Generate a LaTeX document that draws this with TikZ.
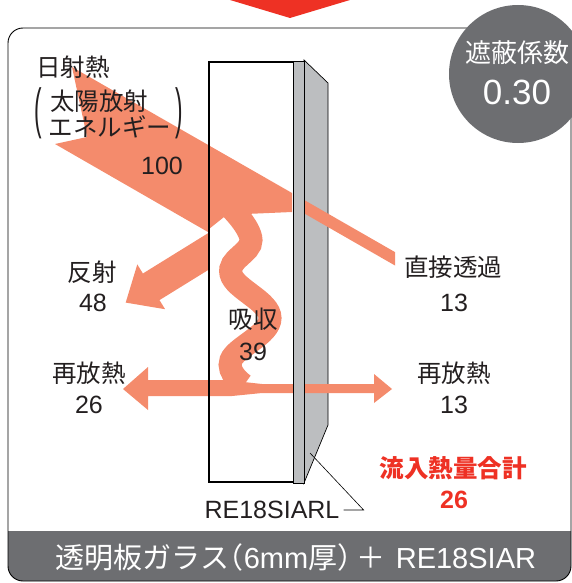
\documentclass[tikz,border=0pt]{standalone}
\usepackage{fontspec}
\usepackage{graphicx}
\setmainfont{Noto Sans CJK JP}
\newfontfamily\jphalt{Noto Sans CJK JP}[RawFeature=+halt]
\newfontfamily\lat{Liberation Sans}
\definecolor{salmon}{HTML}{F48B6C}
\definecolor{band}{HTML}{6D6E71}
\definecolor{filmgray}{HTML}{BCBEC0}
\definecolor{topred}{HTML}{EE3124}
\definecolor{hot}{HTML}{EE3124}
\definecolor{ink}{HTML}{231F20}
\begin{document}
\begin{tikzpicture}
  [x=1pt,y=-1pt,every node/.style={inner sep=0pt,text=ink},
   lbl/.style={font=\fontsize{24.5}{24.5}\selectfont},
   num/.style={font=\lat\fontsize{25}{25}\selectfont},
   beam/.style={fill=salmon},
   film/.style={fill=filmgray,draw=black,line width=0.7pt}]
\useasboundingbox (0,0) rectangle (572,583);

% Marco con banda inferior
\begin{scope}
  \clip[rounded corners=15pt] (8,28) rectangle (571,581);
  \fill[band] (0,531) rectangle (572,583);
\end{scope}
\draw[line width=0.9pt,rounded corners=15pt] (8,28) rectangle (571,581);

% Punta de flecha superior
\fill[topred] (230,0) -- (350,0) -- (290,18) -- cycle;

% Pelicula vista de lado
\draw[film] (304,60) -- (328,83) -- (328,425) -- (304,483) -- cycle;

% Rayos: entrada, reflejo, absorcion, transmision
\fill[beam] (72,67) -- (292,193) -- (292,212) -- (246,214) -- (224,217) -- (209,229)
  -- (209,232.6) -- (55,144) -- (87,137) -- cycle;
\fill[beam] (209,232.6) -- (142.9,273.5) -- (137.3,264.4) -- (125.7,302.6)
  -- (165.1,309.2) -- (159.5,300.1) -- (209,269.5) -- cycle;
\draw[salmon,line width=23pt] plot[smooth,tension=0.7]
  coordinates {(229,206) (251,240) (231,274) (270,318) (231,360) (244,385)};
\fill[beam] (123,389) -- (148,367) -- (148,380) -- (226,380) -- (262,384) -- (374,384)
  -- (374,374) -- (392,389) -- (374,403) -- (374,393) -- (262,393) -- (232,396)
  -- (148,396) -- (148,410) -- cycle;
\fill[beam] (300,197.6) -- (395,252.1) -- (395,265.5) -- (300,211) -- cycle;

% Vidrio y borde de la pelicula
\draw[film] (293,61) rectangle (304,483);
\draw[line width=2.5pt] (293,62) -- (209,62) -- (209,482) -- (293,482);

% Textos
\node[lbl] (sun) at (73,67) {日射熱};
\node[lbl] (sun2) at (99,101) {太陽放射};
\node[lbl] (sun3) at (110,127) {エネルギー};
\node[num] (parl) at (38,113) {\scalebox{0.9}[2.2]{(}};
\node[num] (parr) at (179,113) {\scalebox{0.9}[2.2]{)}};
\node[num] (total) at (162,166) {100};
\node[lbl] (refl) at (92,272) {反射};
\node[num] (reflv) at (93,303) {48};
\node[lbl] (absb) at (253,319) {吸収};
\node[num] (absbv) at (253,352) {39};
\node[lbl] (reinl) at (89,373) {再放熱};
\node[num] (reinlv) at (89,405) {26};
\node[lbl] (trans) at (453,267) {直接透過};
\node[num] (transv) at (454,303) {13};
\node[lbl] (reout) at (454,373) {再放熱};
\node[num] (reoutv) at (454,405) {13};
\node[lbl,text=hot,font=\bfseries\fontsize{24.5}{24.5}\selectfont] (gain) at (453,468) {流入熱量合計};
\node[num,text=hot,font=\lat\bfseries\fontsize{25}{25}\selectfont] (gainv) at (454,500) {26};
\node[num] (filmlbl) at (272,510) {RE18SIARL};
\coordinate (filmpt) at (310,453);
\draw[line width=0.6pt] ([xshift=4pt]filmlbl.east) -- ++(20,0) -- (filmpt);

% Coeficiente de sombra
\node[circle,fill=band,minimum size=138pt] (shield) at (518,74) {};
\node[font=\fontsize{26}{26}\selectfont,text=white] (shieldlbl) at (517,53) {遮蔽係数};
\node[font=\lat\fontsize{35}{35}\selectfont,text=white] (shieldval) at (517,92) {0.30};

\node[font=\fontsize{29}{29}\selectfont,text=white] (caption) at (296,557)
  {透明板ガラス{\jphalt （}{\lat 6mm}厚{\jphalt ）}\hspace{5pt}＋\hspace{10pt}{\lat RE18SIAR}};
\end{tikzpicture}
\end{document}
